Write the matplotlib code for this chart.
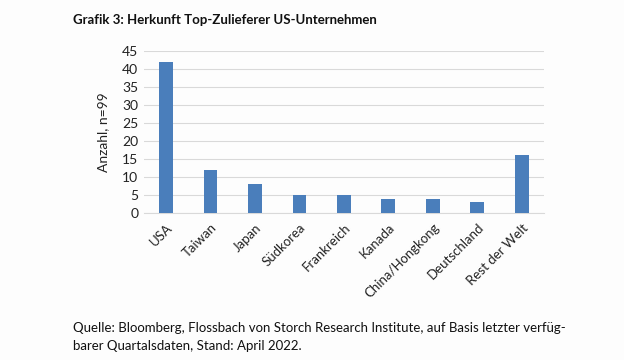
import matplotlib
matplotlib.use("Agg")
import matplotlib.pyplot as plt

categories = ["USA", "Taiwan", "Japan", "Südkorea", "Frankreich", "Kanada",
              "China/Hongkong", "Deutschland", "Rest der Welt"]
values = [42, 12, 8, 5, 5, 4, 4, 3, 16]
yticks = [0, 5, 10, 15, 20, 25, 30, 35, 40, 45]

title = "Grafik 3: Herkunft Top-Zulieferer US-Unternehmen"
ylabel = "Anzahl, n=99"
source = ("Quelle: Bloomberg, Flossbach von Storch Research Institute, auf Basis letzter verfüg-\n"
          "barer Quartalsdaten, Stand: April 2022.")

plt.rcParams['font.family'] = ['Lato', 'DejaVu Sans']

fig = plt.figure(figsize=(6.24, 3.6), dpi=100)
fig.patch.set_facecolor("#fdfdfd")
ax = fig.add_axes([0.2304, 0.4083, 0.6414, 0.45])
ax.set_facecolor("#fdfdfd")

x = range(len(categories))
ax.bar(x, values, width=0.31, color="#4a7ebb", zorder=3)
ax.set_xlim(-0.5, len(categories) - 0.5)
ax.set_ylim(0, 45)
ax.set_yticks(yticks)
ax.set_yticklabels([str(t) for t in yticks], fontsize=10, color="#222222")
ax.set_xticks(list(x))
ax.set_xticklabels(categories, rotation=45, ha="right", va="top",
                   rotation_mode="anchor", fontsize=9.5, color="#222222")
ax.tick_params(axis="both", length=0, pad=4)
ax.tick_params(axis="x", pad=6)
ax.grid(axis="y", color="#d9d9d9", linewidth=0.8, zorder=0)
for s in ["top", "right", "left"]:
    ax.spines[s].set_visible(False)
ax.spines["bottom"].set_color("#d9d9d9")
ax.spines["bottom"].set_linewidth(0.8)
ax.set_ylabel(ylabel, fontsize=10, color="#222222", labelpad=9)

fig.text(73 / 624, 1 - 20 / 360, title, fontsize=9.5, fontweight="bold",
         ha="left", va="center", color="#111111")
fig.text(73 / 624, 1 - 337 / 360, source, fontsize=9.5, ha="left", va="center",
         color="#111111", linespacing=1.6)

fig.savefig("out.png", dpi=100, facecolor=fig.get_facecolor())
